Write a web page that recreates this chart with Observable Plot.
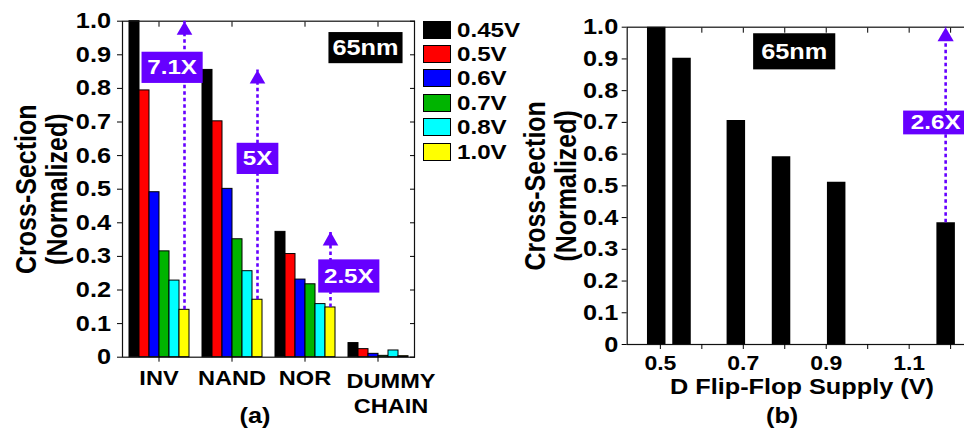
<!DOCTYPE html>
<html><head><meta charset="utf-8">
<script src="https://cdn.jsdelivr.net/npm/d3@7"></script>
<script src="https://cdn.jsdelivr.net/npm/@observablehq/plot@0.6"></script>
<style>
body{margin:0;background:#fff;overflow:hidden}
#wrap{position:relative;width:964px;height:431px;overflow:hidden;font-family:"Liberation Sans",Arial,sans-serif;background:#fff}
.panel{position:absolute;top:0}
.panel svg{max-width:none!important;display:block;background:transparent!important}
#legend{position:absolute;left:422.7px;top:20.7px;z-index:5}
.row{position:absolute;left:0;height:18px;display:flex;align-items:center;white-space:nowrap}
.sw{width:28px;height:18px;box-sizing:border-box;border:1px solid #000}
.lab{margin-left:6px;font-weight:bold;font-size:21px;line-height:18px;transform:scaleX(1.15);transform-origin:left center;color:#000}
</style></head>
<body><div id="wrap"><div id="pa" class="panel" style="left:0;width:480px;z-index:1"></div><div id="pb" class="panel" style="left:480px;width:500px;z-index:2"></div><div id="legend"></div></div>
<script>
// ---------- data: panel (a) ----------
const cats = ["INV", "NAND", "NOR", "DUMMY CHAIN"];
const volts = ["0.45V", "0.5V", "0.6V", "0.7V", "0.8V", "1.0V"];
const voltColors = ["#000000", "#ff0000", "#0000ff", "#00b400", "#00ffff", "#ffff00"];
const cs045 = [1.0, 0.855, 0.373, 0.042];
const cs050 = [0.794, 0.702, 0.307, 0.024];
const cs060 = [0.491, 0.501, 0.231, 0.010];
const cs070 = [0.315, 0.351, 0.217, 0.004];
const cs080 = [0.228, 0.256, 0.158, 0.020];
const cs100 = [0.141, 0.171, 0.148, 0.003];
const yTicks = [0, 0.1, 0.2, 0.3, 0.4, 0.5, 0.6, 0.7, 0.8, 0.9, 1.0];
const annCatsA = ["INV", "NAND", "NOR"];
const annLabelsA = ["7.1X", "5X", "2.5X"];
const annLabelYA = [0.862, 0.591, 0.241];

// ---------- data: panel (b) ----------
const supplyV = [0.49, 0.551, 0.682, 0.791, 0.924, 1.188];
const dffCS = [1.0, 0.902, 0.706, 0.592, 0.511, 0.384];
const xTicksB = [0.5, 0.6, 0.7, 0.8, 0.9, 1.0, 1.1, 1.2];
const xLabelsB = [0.5, 0.7, 0.9, 1.1];
const annLabelB = "2.6X";
const annLabelYB = 0.699;

const purple = "#6600ff";
const FONT = "Liberation Sans, Arial, sans-serif";
const fmtY = d => d === 0 ? "0" : d.toFixed(1);

const series = [cs045, cs050, cs060, cs070, cs080, cs100];
const rowsA = [];
cats.forEach((c, ci) => volts.forEach((v, vi) => rowsA.push({cat: c, volt: v, value: series[vi][ci]})));
const annRowsA = annCatsA.map((c, i) => {
  const ci = cats.indexOf(c);
  return {cat: c, volt: volts[5], from: cs100[ci], to: cs045[ci], label: annLabelsA[i], labelY: annLabelYA[i]};
});
const labelDxA = [-12.4, 0, 18.3];
const bold = {fontWeight: "bold", fontFamily: FONT};

const plotA = Plot.plot({
  width: 480, height: 431,
  marginLeft: 120, marginRight: 65, marginTop: 20.7, marginBottom: 74.3,
  style: {fontFamily: FONT, color: "black", background: "transparent"},
  fx: {domain: cats, paddingInner: 0, paddingOuter: 0, label: null},
  x: {domain: volts, paddingInner: 0, paddingOuter: 0.627, axis: null},
  y: {domain: [0, 1], label: null},
  color: {domain: volts, range: voltColors},
  marks: [
    Plot.barY(rowsA, {fx: "cat", x: "volt", y: "value", fill: "volt", stroke: "#000", strokeWidth: 1}),
    Plot.frame({facet: "super", stroke: "#111", strokeWidth: 1.2}),
    Plot.axisY({anchor: "left", ticks: yTicks, tickFormat: fmtY, tickSize: 5, tickPadding: 6.5, fontSize: 22, ...bold, label: null}),
    Plot.axisY({anchor: "right", ticks: yTicks, tickSize: 5, dx: -5, fill: "none", label: null}),
    Plot.axisFx({anchor: "top", tickSize: 5, dy: 5, fill: "none", label: null}),
    Plot.axisFx({anchor: "bottom", tickSize: 5, tickPadding: 8, tickFormat: d => d === "DUMMY CHAIN" ? "" : d, fontSize: 20.5, ...bold, label: null}),
    Plot.axisFx({anchor: "bottom", tickSize: 0, tickPadding: 13.3, dx: 13, tickFormat: d => d === "DUMMY CHAIN" ? "DUMMY\nCHAIN" : "", lineHeight: 1.2, fontSize: 20.5, ...bold, label: null}),
    Plot.ruleX(annRowsA, {fx: "cat", x: "volt", y1: "from", y2: "to", stroke: purple, strokeWidth: 2.6, strokeDasharray: "3.5,3"}),
    Plot.dot(annRowsA, {fx: "cat", x: "volt", y: "to", symbol: "triangle", r: 5.8, fill: purple, dy: 9}),
    ...annRowsA.map((a, i) => Plot.text([a], {fx: "cat", x: "volt", y: "labelY", text: "label", dx: labelDxA[i], lineAnchor: "middle", fill: "white", fontSize: 21, ...bold})),
    Plot.text(["65nm"], {text: d => d, facet: "super", frameAnchor: "top-right", textAnchor: "middle", lineAnchor: "middle", dx: -49, dy: 26.8, fill: "white", fontSize: 22, ...bold}),
    Plot.text(["Cross-Section\n(Normalized)"], {text: d => d, facet: "super", frameAnchor: "left", textAnchor: "middle", lineAnchor: "middle", rotate: -90, dx: -81, fontSize: 25, lineHeight: 1.08, ...bold}),
    Plot.text(["(a)"], {text: d => d, facet: "super", frameAnchor: "bottom", textAnchor: "middle", lineAnchor: "middle", dx: -13.5, dy: 59, fontSize: 22, ...bold})
  ]
});

const rowsB = supplyV.map((v, i) => ({v, cs: dffCS[i]}));
const annRowB = [{v: supplyV[5], from: dffCS[5], to: dffCS[0], label: annLabelB, labelY: annLabelYB}];

const plotB = Plot.plot({
  width: 500, height: 431,
  marginLeft: 146.7, marginRight: 5, marginTop: 26.7, marginBottom: 87,
  style: {fontFamily: FONT, color: "black", background: "transparent"},
  x: {domain: [0.42, 1.26], label: null},
  y: {domain: [0, 1], label: null},
  marks: [
    Plot.ruleX(rowsB, {x: "v", y1: 0, y2: "cs", stroke: "black", strokeWidth: 18.5}),
    Plot.frame({stroke: "#111", strokeWidth: 1.2}),
    Plot.axisY({anchor: "left", ticks: yTicks, tickFormat: fmtY, tickSize: 5, tickPadding: 4, fontSize: 22, ...bold, label: null}),
    Plot.axisX({anchor: "bottom", ticks: xTicksB, tickFormat: d => xLabelsB.includes(d) ? d.toFixed(1) : "", tickSize: 5, tickPadding: 6, fontSize: 20, ...bold, label: null}),
    Plot.axisX({anchor: "top", ticks: xTicksB, tickSize: 5, dy: 5, fill: "none", label: null}),
    Plot.ruleX(annRowB, {x: "v", y1: "from", y2: "to", stroke: purple, strokeWidth: 2.6, strokeDasharray: "3.5,3"}),
    Plot.dot(annRowB, {x: "v", y: "to", symbol: "triangle", r: 6, fill: purple, dy: 9.3}),
    Plot.text(annRowB, {x: "v", y: "labelY", text: "label", dx: -10, lineAnchor: "middle", fill: "white", fontSize: 21, ...bold}),
    Plot.text(["65nm"], {text: d => d, frameAnchor: "top-left", textAnchor: "middle", lineAnchor: "middle", dx: 167, dy: 24.5, fill: "white", fontSize: 22, ...bold}),
    Plot.text(["Cross-Section\n(Normalized)"], {text: d => d, frameAnchor: "left", textAnchor: "middle", lineAnchor: "middle", rotate: -90, dx: -76.7, fontSize: 25, lineHeight: 1.08, ...bold}),
    Plot.text(["D Flip-Flop Supply (V)"], {text: d => d, frameAnchor: "bottom", textAnchor: "middle", lineAnchor: "middle", dx: 0.6, dy: 42.7, fontSize: 22, ...bold}),
    Plot.text(["(b)"], {text: d => d, frameAnchor: "bottom", textAnchor: "middle", lineAnchor: "middle", dx: -19.2, dy: 71.5, fontSize: 22, ...bold})
  ]
});

document.getElementById("pa").append(plotA);
document.getElementById("pb").append(plotB);

// legend (a)
const legend = document.getElementById("legend");
volts.forEach((v, i) => {
  const row = document.createElement("div");
  row.className = "row";
  row.style.top = (i * 24.4) + "px";
  const sw = document.createElement("div");
  sw.className = "sw";
  sw.style.background = voltColors[i];
  const lab = document.createElement("div");
  lab.className = "lab";
  lab.textContent = v;
  row.append(sw, lab);
  legend.append(row);
});

// horizontal stretch of the bold type + label boxes
function finish(svg, boxes) {
  const k = 1.15;
  svg.querySelectorAll("text").forEach(t => {
    let tr = t.getAttribute("transform");
    if (!tr) {
      const x = +t.getAttribute("x") || 0, y = +t.getAttribute("y") || 0;
      tr = `translate(${x},${y})`;
      t.setAttribute("x", 0); t.setAttribute("y", 0);
    }
    t.setAttribute("transform", tr + (/rotate\(/.test(tr) ? ` scale(1,${k})` : ` scale(${k},1)`));
  });
  svg.querySelectorAll("text").forEach(t => {
    const cfg = boxes[t.textContent];
    if (!cfg) return;
    const bb = t.getBBox();
    const r = document.createElementNS("http://www.w3.org/2000/svg", "rect");
    r.setAttribute("x", bb.x - cfg.px);
    r.setAttribute("y", bb.y - cfg.py);
    r.setAttribute("width", bb.width + 2 * cfg.px);
    r.setAttribute("height", bb.height + 2 * cfg.py);
    r.setAttribute("fill", cfg.fill);
    r.setAttribute("stroke", "none");
    r.setAttribute("transform", t.getAttribute("transform"));
    t.parentNode.insertBefore(r, t);
  });
}
finish(plotA, {
  "7.1X": {fill: purple, px: 5, py: 4},
  "5X": {fill: purple, px: 5.3, py: 4},
  "2.5X": {fill: purple, px: 5, py: 5},
  "65nm": {fill: "#000", px: 3.5, py: 3.5}
});
finish(plotB, {
  "2.6X": {fill: purple, px: 6.7, py: 0.3},
  "65nm": {fill: "#000", px: 7, py: 6}
});
</script>
</body></html>
